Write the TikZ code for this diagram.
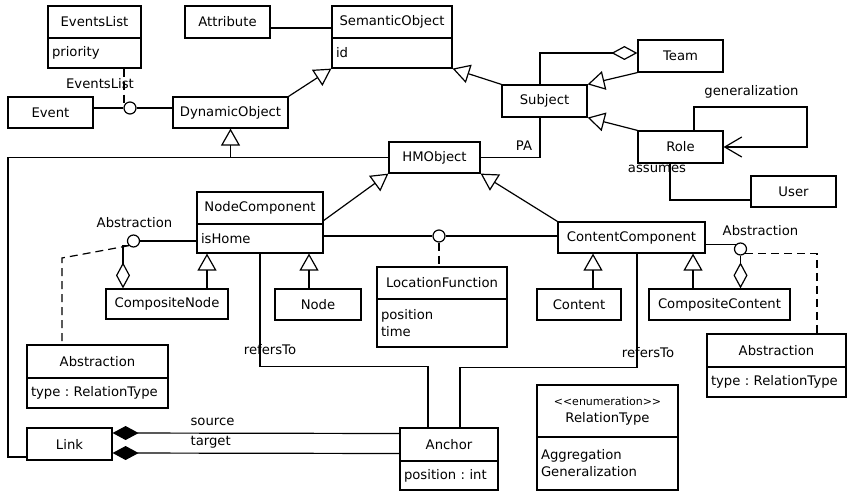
\documentclass[tikz,border=0pt]{standalone}
\usepackage{fontspec}
\setmainfont{DejaVu Sans}
\usepackage{tikz}
\usetikzlibrary{arrows.meta}
\newcommand{\umlfont}{\fontsize{13.2}{17}\selectfont\frenchspacing}
\tikzstyle{cls} = [draw, inner sep=0pt, minimum height=32pt, font=\umlfont]
\tikzstyle{attrs} = [cls, align=left, inner xsep=4pt]
\tikzstyle{lolli} = [draw, circle, fill=white, minimum size=12pt, inner sep=0pt]
\tikzstyle{lbl} = [font=\umlfont, inner sep=0pt]
\tikzstyle{gen} = [-{Triangle[open,length=17pt,width=19pt]}]
\tikzstyle{agg} = [-{Diamond[open,length=26pt,width=14pt]}]
\tikzstyle{comp} = [-{Diamond[length=26pt,width=14pt]}]
\tikzset{dashed/.style={dash pattern=on 8pt off 5pt}}

\begin{document}
\begin{tikzpicture}[x=1pt, y=-1pt, line width=1.2pt]
\useasboundingbox (0,0) rectangle (847,494);
%classes
\node[cls, minimum width=93pt] (evlist) at (94.5,22) {EventsList};
\node[attrs, text width=85pt, minimum height=30pt] (evlist-a) at (94.5,53) {priority};
\node[cls, minimum width=85pt] (attr) at (227.5,22) {Attribute};
\node[cls, minimum width=120pt] (semobj) at (392,22) {SemanticObject};
\node[attrs, text width=112pt, minimum height=30pt] (semobj-a) at (392,53) {id};
\node[cls, minimum width=85pt, minimum height=31pt] (event) at (50.5,112.5) {Event};
\node[cls, minimum width=115pt, minimum height=31pt] (dynobj) at (230.5,112.5) {DynamicObject};
\node[cls, minimum width=85pt] (subject) at (544.5,101) {Subject};
\node[cls, minimum width=85pt] (team) at (680.5,56) {Team};
\node[cls, minimum width=85pt] (role) at (680.5,147) {Role};
\node[cls, minimum width=85pt, minimum height=31pt] (user) at (793.5,191.5) {User};
\node[cls, minimum width=91pt, minimum height=31pt] (hmobj) at (434.5,157.5) {HMObject};
\node[cls, minimum width=126pt] (nodecomp) at (260,208) {NodeComponent};
\node[attrs, text width=118pt, minimum height=29pt] (nodecomp-a) at (260,238.5) {isHome};
\node[cls, minimum width=147pt, minimum height=31pt] (contcomp) at (631.5,237.5) {ContentComponent};
\node[cls, minimum width=122pt, minimum height=30pt] (compnode) at (167,304) {CompositeNode};
\node[cls, minimum width=86pt, minimum height=31pt] (nodecls) at (318,304.5) {Node};
\node[cls, minimum width=130pt] (locfun) at (442,283) {LocationFunction};
\node[attrs, text width=122pt, minimum height=48pt] (locfun-a) at (442,323) {position\\time};
\node[cls, minimum width=84pt, minimum height=31pt] (content) at (579,304.5) {Content};
\node[cls, minimum width=141pt, minimum height=31pt] (compcont) at (719.5,304.5) {CompositeContent};
\node[cls, minimum width=141pt, minimum height=33pt] (absl) at (97.5,361.5) {Abstraction};
\node[attrs, text width=133pt, minimum height=30pt] (absl-a) at (97.5,393) {type : RelationType};
\node[cls, minimum width=139pt, minimum height=33pt] (absr) at (776.5,350.5) {Abstraction};
\node[attrs, text width=131pt, minimum height=30pt] (absr-a) at (776.5,382) {type : RelationType};
\node[cls, minimum width=85pt] (link) at (69.5,444) {Link};
\node[cls, minimum width=98pt, minimum height=33pt] (anchor) at (449,444.5) {Anchor};
\node[attrs, text width=90pt, minimum height=29pt] (anchor-a) at (449,475.5) {position : int};
\node[cls, minimum width=141pt, minimum height=52pt, align=center] (reltype) at (607.5,411)
  {{\fontsize{11}{13}\selectfont <{}<enumeration>{}>}\\RelationType};
\node[attrs, text width=133pt, minimum height=53pt] (reltype-a) at (607.5,463.5) {Aggregation\\Generalization};

%interfaces
\node[lolli] (evlol) at (130,108) {};
\node[lolli] (abslol) at (133.5,241) {};
\node[lolli] (loclol) at (439,236) {};
\node[lolli] (abrlol) at (740.5,249) {};
\coordinate (rloop) at (807,107);
\coordinate (lcorner) at (8,157.5);
\coordinate (absbend) at (62,258);

%generalizations
\draw[gen] (dynobj.north east) -- (semobj-a.south west);
\draw[gen] (subject.north west) -- (semobj-a.south east);
\draw[gen] (team.south west) -- (subject.north east);
\draw[gen] (role.north west) -- (subject.south east);
\draw[gen] (hmobj.west) -| (dynobj.south);
\draw (lcorner) -- (dynobj.south |- hmobj.west);
\draw ([yshift=-13pt]link.west) -| (lcorner);
\draw[gen] ([yshift=4pt]nodecomp.south east) -- (hmobj.south west);
\draw[gen] (contcomp.north west) -- (hmobj.south east);
\draw[gen] ([xshift=40pt]compnode.north) coordinate (g1) -- (g1 |- nodecomp-a.south);
\draw[gen] ([xshift=-9pt]nodecls.north) coordinate (g2) -- (g2 |- nodecomp-a.south);
\draw[gen] ([xshift=14pt]content.north) coordinate (g3) -- (g3 |- contcomp.south);
\draw[gen] ([xshift=-26.5pt]compcont.north) coordinate (g4) -- (g4 |- contcomp.south);
\draw[-{Straight Barb[length=17pt,width=20pt]}] ([xshift=13.5pt]role.north) |- (rloop) |- (role.east);

%associations
\draw ([yshift=-6pt]attr.east) -- ([yshift=-6pt]semobj.west);
\draw (event.east |- evlol) -- (evlol) -- (dynobj.west |- evlol);
\draw[dashed] ([xshift=29.5pt]evlist-a.south) coordinate (e1) -- (e1 |- evlol.north west);
\draw[agg] ([xshift=-4.5pt]subject.north) |- ([yshift=3pt]team.west);
\draw ([xshift=-10.5pt]role.south) |- ([yshift=-8.5pt]user.west);
\draw (hmobj.east) -| ([xshift=-4.5pt]subject.south);
\draw (nodecomp-a.east |- loclol) -- (loclol) -- (contcomp.west |- loclol);
\draw[dashed] (loclol) -- (loclol |- locfun.north);
\draw (abslol) -- (nodecomp-a.west |- abslol);
\draw[agg] (abslol.south west) -| ([xshift=-44pt]compnode.north);
\draw[dashed] (abslol.south west) -- (absbend) -- ([xshift=-35.5pt]absl.north);
\draw (contcomp.east |- abrlol.north west) -- (abrlol.north west);
\draw[agg] (abrlol.south) -- (abrlol.south |- compcont.north);
\draw[dashed] (abrlol.south east) -| ([xshift=40.5pt]absr.north);
\draw (nodecomp-a.south) -- ++(0,113) -| ([xshift=-21pt]anchor.north);
\draw ([xshift=5.5pt]contcomp.south) -- ++(0,114) -| ([xshift=11pt]anchor.north);
\draw[comp] ([yshift=11pt]anchor.west) -- ([yshift=11pt]link.east);
\draw[comp] ([yshift=-9pt]anchor.west) -- ([yshift=-9pt]link.east);

%labels
\node[lbl] (evlbl) at (100,84) {EventsList};
\node[lbl] (genlbl) at (751.5,92) {generalization};
\node[lbl] (asslbl) at (657,169) {assumes};
\node[lbl] (palbl) at (524,146) {PA};
\node[lbl] (abslbl) at (134.5,223) {Abstraction};
\node[lbl] (abrlbl) at (760.5,231) {Abstraction};
\node[lbl] (reflbl) at (270,350) {refersTo};
\node[lbl] (refrlbl) at (648,353) {refersTo};
\node[lbl, anchor=west] (srclbl) at (190,422) {source};
\node[lbl, anchor=west] (tgtlbl) at (190,442) {target};
\end{tikzpicture}
\end{document}
